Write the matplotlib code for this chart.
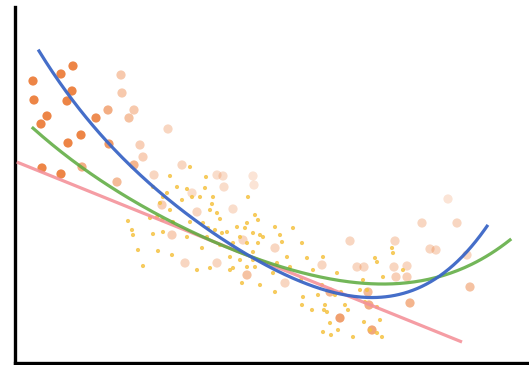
import numpy as np
import matplotlib
matplotlib.use("Agg")
import matplotlib.pyplot as plt

# Large observations: x, y and opacity
big_x = [1.9, 2.0, 4.7, 5.9, 5.8, 5.3, 3.3, 2.7, 6.7, 5.4, 8.2, 2.8, 4.7,
         9.5, 9.4, 6.8, 12.0, 10.3,
         10.7, 10.8, 12.0, 11.5, 12.6, 12.9, 14.0, 15.4, 16.8, 20.3, 20.9,
         23.9, 21.0, 24.0, 14.8, 17.8, 18.3, 15.8, 21.9, 22.9, 17.1, 20.3,
         23.3, 33.6, 26.1, 30.8, 34.3, 35.0, 38.1, 38.0, 39.3, 38.2, 39.3,
         27.1, 31.6, 32.6, 35.8, 35.4, 35.5, 39.6, 40.8, 43.4, 44.3, 41.6,
         42.2, 45.3, 45.6]
big_y = [28.1, 26.2, 28.8, 29.6, 27.1, 26.1, 24.6, 23.8, 22.7, 21.9, 24.4, 19.4, 18.8,
         21.8, 25.2, 19.5, 19.7, 18.0,
         28.7, 26.9, 25.2, 24.4, 21.7, 20.5, 18.7, 23.3, 19.7, 18.7, 18.6,
         18.6, 17.5, 17.7, 15.7, 16.9, 15.0, 12.7, 15.3, 12.2, 9.9, 9.9,
         8.7, 12.1, 11.4, 9.7, 9.5, 9.5, 12.1, 9.5, 9.6, 8.5, 8.5,
         7.9, 7.0, 4.4, 3.2, 7.0, 5.7, 5.9, 13.9, 16.3, 13.9, 11.3,
         11.2, 10.7, 7.5]
big_alpha = [0.9, 0.9, 0.9, 0.9, 0.9, 0.9, 0.9, 0.9, 0.9, 0.9, 0.85, 0.9, 0.9,
             0.75, 0.6, 0.6, 0.55, 0.5,
             0.4, 0.4, 0.4, 0.45, 0.35, 0.35, 0.3, 0.3, 0.3, 0.25, 0.25,
             0.2, 0.25, 0.2, 0.35, 0.25, 0.3, 0.35, 0.25, 0.3, 0.3, 0.3,
             0.45, 0.3, 0.3, 0.3, 0.3, 0.3, 0.3, 0.3, 0.3, 0.35, 0.35,
             0.3, 0.55, 0.7, 0.65, 0.5, 0.6, 0.55, 0.3, 0.2, 0.3, 0.3,
             0.3, 0.3, 0.45]

# Small observations
small_x = [15.6, 16.3, 17.3, 19.2, 19.1, 13.9, 17.6, 17.8, 18.6, 19.9, 14.9, 16.8,
           19.8, 14.6, 15.6, 15.9, 14.8, 17.6, 19.6, 20.3, 20.6, 18.9, 11.8, 11.9,
           13.9, 14.9, 19.4, 20.1, 21.3, 22.3, 22.6, 21.9, 23.3, 20.6, 18.8, 12.4,
           14.4, 15.8, 23.9, 21.6, 23.9, 19.6, 18.3, 12.9, 21.6, 23.3, 11.4, 13.6,
           23.4, 24.1, 23.3, 17.3, 19.3, 20.8, 22.8, 24.6, 21.9, 24.4, 23.9, 24.4,
           24.9, 15.3, 14.3,
           26.1, 24.6, 26.6, 26.8, 27.9, 28.8, 27.3, 29.3, 30.9, 26.3, 23.1, 36.1,
           22.6, 24.1, 37.8, 25.9, 27.6, 29.9, 32.3, 30.8, 32.1, 33.1, 33.4, 30.4,
           34.6, 35.3, 28.9, 31.1, 29.8, 31.3, 26.1, 28.8, 35.1, 36.3, 36.6, 31.6,
           32.4, 35.6, 30.9, 33.9, 36.8, 34.9, 38.9, 37.9, 36.3, 31.7, 35.0, 36.3,
           28.7, 32.7, 31.0, 36.9]
small_y = [18.6, 17.5, 17.3, 18.5, 17.4, 17.5, 19.5, 16.5, 16.5, 16.5, 16.5, 16.2,
           15.8, 15.9, 15.2, 14.0, 14.2, 14.0, 15.2, 14.9, 14.3, 13.9, 13.2, 12.7,
           12.8, 13.0, 13.4, 13.2, 13.0, 13.5, 12.5, 11.9, 11.9, 11.7, 11.4, 11.2,
           11.1, 10.7, 11.0, 10.5, 10.2, 9.4, 9.2, 9.6, 9.2, 9.5, 14.1, 14.4,
           16.5, 14.7, 13.9, 12.5, 12.5, 12.9, 7.9, 7.7, 9.4, 11.9, 12.9, 14.2,
           12.5, 16.9, 14.5,
           13.5, 12.7, 12.7, 12.0, 13.4, 11.9, 10.5, 10.4, 10.5, 9.9, 13.4, 10.4,
           10.2, 9.5, 11.4, 8.9, 9.5, 9.2, 8.9, 7.7, 6.7, 5.7, 5.2, 6.7,
           7.2, 7.2, 6.5, 5.7, 5.2, 5.0, 7.0, 5.7, 6.0, 5.5, 4.2, 3.9,
           3.2, 3.2, 3.0, 2.5, 2.5, 8.2, 9.2, 10.9, 10.0, 2.7, 4.0, 2.9,
           8.2, 7.0, 5.2, 8.5]

# Trend lines, given as points along each curve
linear_x = [0.27, 44.8]
linear_y = [20.0, 2.0]
blue_x = [2.5, 14.0, 20.6, 25.0, 36.0, 42.5, 47.3]
blue_y = [31.1, 17.5, 12.4, 9.8, 6.5, 8.5, 13.6]
green_x = [1.9, 9.7, 15.6, 24.6, 29.6, 34.6, 42.3, 49.6]
green_y = [23.4, 17.4, 14.2, 10.2, 8.7, 7.9, 8.5, 12.2]

fig = plt.figure(figsize=(5.29, 3.65), dpi=100)
ax = fig.add_axes([15 / 529, 2 / 365, 514 / 529, 356 / 365])
ax.set_xlim(0.1, 51.5)
ax.set_ylim(-0.1, 35.5)

orange = np.array([235, 120, 50]) / 255.0
big_colors = [(*orange, a) for a in big_alpha]
ax.scatter(big_x, big_y, s=44, c=big_colors, edgecolors="none", zorder=2)
ax.scatter(small_x, small_y, s=9, color="#F5C242", alpha=0.85,
           edgecolors="none", zorder=3)

ax.plot(linear_x, linear_y, color="#F4929A", lw=2.3, alpha=0.9,
        solid_capstyle="butt", zorder=4)

gx = np.linspace(min(green_x), max(green_x), 200)
ax.plot(gx, np.polyval(np.polyfit(green_x, green_y, 4), gx),
        color="#5AAA3C", lw=2.3, alpha=0.85, zorder=5)

bx = np.linspace(min(blue_x), max(blue_x), 200)
ax.plot(bx, np.polyval(np.polyfit(blue_x, blue_y, 4), bx),
        color="#3B66C6", lw=2.3, alpha=0.95, zorder=6)

for side in ("top", "right"):
    ax.spines[side].set_visible(False)
for side in ("left", "bottom"):
    ax.spines[side].set_linewidth(2.4)
    ax.spines[side].set_color("black")
ax.set_xticks([])
ax.set_yticks([])

fig.savefig("out.png", dpi=100)
